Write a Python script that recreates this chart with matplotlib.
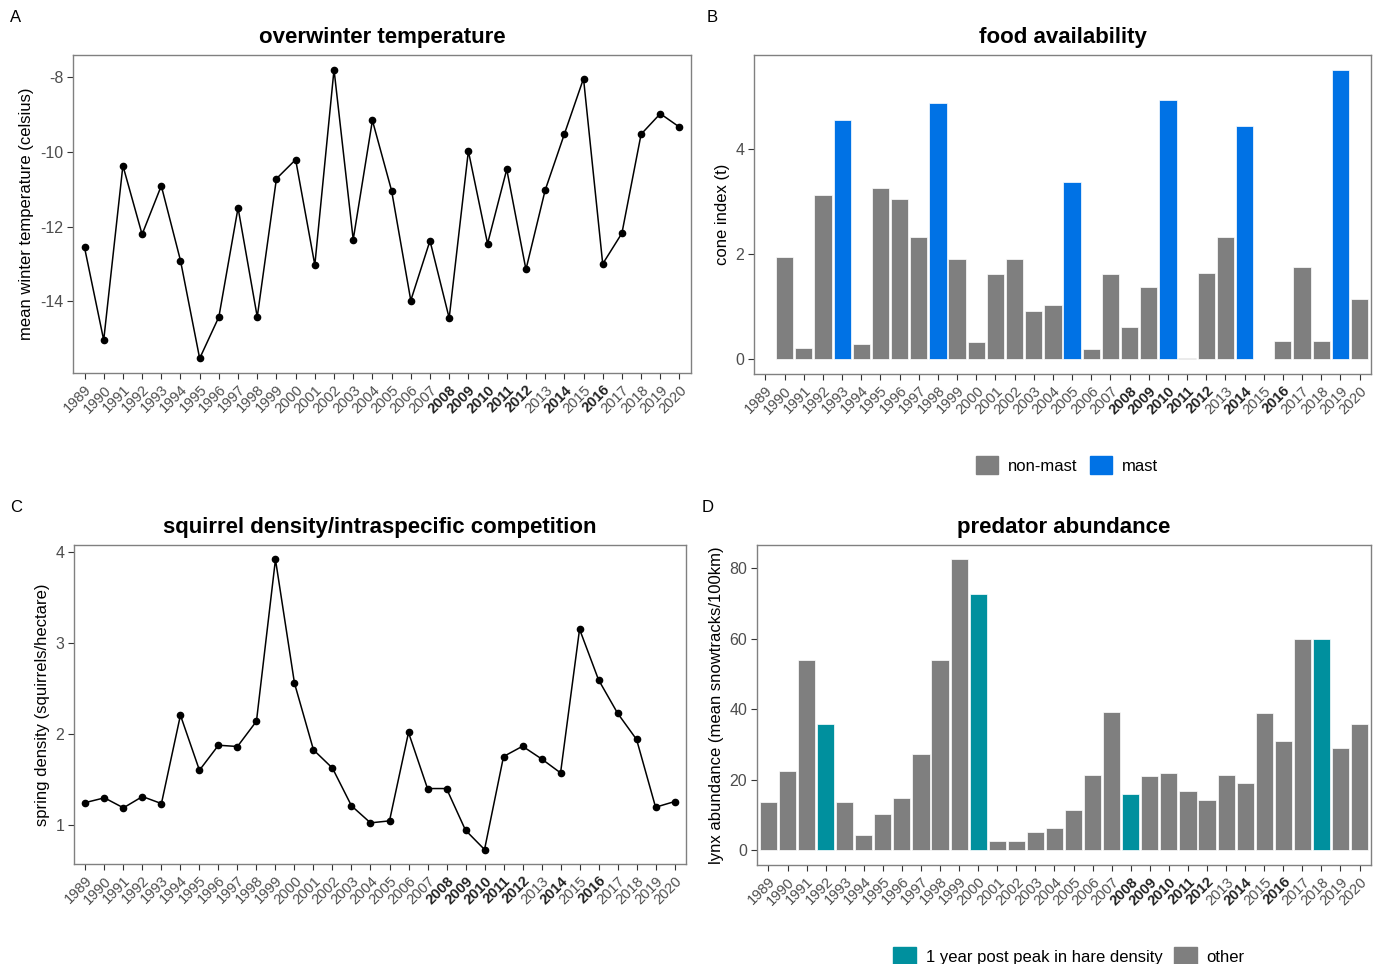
import numpy as np
import matplotlib
matplotlib.use("Agg")
import matplotlib.pyplot as plt
from matplotlib.patches import Patch

plt.rcParams['font.family'] = ['Liberation Sans', 'DejaVu Sans']
plt.rcParams['axes.unicode_minus'] = False

years = list(range(1989, 2021))
bold_years = [2008, 2009, 2010, 2011, 2012, 2014, 2016]

# A: overwinter temperature
temp = [-12.56, -15.04, -10.37, -12.21, -10.91, -12.91, -15.53, -14.42, -11.50, -14.42,
        -10.72, -10.21, -13.03, -7.80, -12.35, -9.16, -11.04, -13.98, -12.38, -14.45,
        -9.98, -12.46, -10.47, -13.15, -11.03, -9.53, -8.04, -13.00, -12.18, -9.53,
        -8.98, -9.34]

# B: cone index (None = no data)
cone = [None, 1.95, 0.22, 3.12, 4.55, 0.30, 3.26, 3.05, 2.32, 4.87,
        1.91, 0.34, 1.63, 1.92, 0.93, 1.04, 3.37, 0.20, 1.63, 0.62,
        1.38, 4.93, 0.02, 1.65, 2.32, 4.44, None, 0.36, 1.76, 0.36,
        5.51, 1.15]
mast_years = [1993, 1998, 2005, 2010, 2014, 2019]

# C: spring squirrel density
density = [1.245, 1.297, 1.187, 1.311, 1.234, 2.205, 1.600, 1.875, 1.861, 2.139,
           3.916, 2.557, 1.824, 1.623, 1.209, 1.022, 1.044, 2.015, 1.399, 1.399,
           0.941, 0.729, 1.751, 1.864, 1.725, 1.571, 3.150, 2.593, 2.227, 1.938,
           1.194, 1.256]

# D: lynx abundance
lynx = [13.8, 22.5, 53.9, 35.8, 13.7, 4.5, 10.4, 14.8, 27.2, 53.9,
        82.4, 72.7, 2.6, 2.8, 5.3, 6.4, 11.4, 21.5, 39.1, 16.1,
        21.2, 22.0, 16.8, 14.3, 21.3, 19.0, 38.8, 30.9, 59.9, 59.8,
        28.9, 35.7]
post_peak = [1992, 2000, 2008, 2018]

grey = '#7F7F7F'
blue = '#0072E5'
teal = '#00909E'
txtgrey = '#4D4D4D'

W, H = 1384, 964
fig = plt.figure(figsize=(W / 100, H / 100), dpi=100)


def box(l, t, r, b):
    return [l / W, 1 - b / H, (r - l) / W, (b - t) / H]


def style(ax, title, ylabel, yticks):
    x = np.arange(len(years))
    ax.set_xlim(-0.6, len(years) - 0.4)
    ax.set_xticks(x)
    ax.set_xticklabels([str(y) for y in years], rotation=45, ha='right',
                       va='top', rotation_mode='anchor', fontsize=10.5, color=txtgrey)
    for lab, y in zip(ax.get_xticklabels(), years):
        if y in bold_years:
            lab.set_fontweight('bold')
            lab.set_color('#222222')
    ax.set_yticks(yticks)
    ax.tick_params(axis='y', labelsize=11.5, labelcolor=txtgrey)
    ax.tick_params(length=4, width=0.8, color='#333333', pad=3)
    for s in ax.spines.values():
        s.set_color('#808080')
        s.set_linewidth(1.0)
    ax.set_title(title, fontsize=16, fontweight='bold', pad=9)
    ax.set_ylabel(ylabel, fontsize=12, labelpad=4)


# A
axA = fig.add_axes(box(73, 55, 691, 373))
xA = np.arange(len(years))
axA.plot(xA, temp, color='black', lw=1.1, marker='o', ms=4.5)
axA.set_ylim(-15.92, -7.41)
style(axA, 'overwinter temperature', 'mean winter temperature (celsius)', [-14, -12, -10, -8])

# B
axB = fig.add_axes(box(754, 55, 1371, 374))
for i, (y, v) in enumerate(zip(years, cone)):
    if v is None:
        continue
    axB.bar(i, v, width=0.9, color=blue if y in mast_years else grey,
            edgecolor='white', linewidth=0.5)
axB.set_ylim(-0.276, 5.79)
style(axB, 'food availability', 'cone index (t)', [0, 2, 4])

# C
axC = fig.add_axes(box(74, 545, 686, 864))
axC.plot(xA, density, color='black', lw=1.1, marker='o', ms=4.5)
axC.set_ylim(0.57, 4.075)
style(axC, 'squirrel density/intraspecific competition',
      'spring density (squirrels/hectare)', [1, 2, 3, 4])

# D
axD = fig.add_axes(box(757, 545, 1371, 865))
axD.bar(xA, lynx, width=0.9, color=[teal if y in post_peak else grey for y in years],
        edgecolor='white', linewidth=0.5)
axD.set_ylim(-4.12, 86.5)
style(axD, 'predator abundance', 'lynx abundance (mean snowtracks/100km)',
      [0, 20, 40, 60, 80])

# panel letters
for lab, (px, py) in zip('ABCD', [(16, 18), (712, 18), (16, 508), (708, 508)]):
    fig.text(px / W, 1 - py / H, lab, fontsize=12, ha='center', va='center')

# legends
fig.legend(handles=[Patch(color=grey, label='non-mast'), Patch(color=blue, label='mast')],
           loc='center', bbox_to_anchor=(1067 / W, 1 - 465 / H), ncol=2, frameon=False,
           fontsize=12, handlelength=1.35, handleheight=1.35, handletextpad=0.6,
           columnspacing=0.7)
fig.legend(handles=[Patch(color=teal, label='1 year post peak in hare density'),
                    Patch(color=grey, label='other')],
           loc='center', bbox_to_anchor=(1069 / W, 1 - 956 / H), ncol=2, frameon=False,
           fontsize=12, handlelength=1.35, handleheight=1.35, handletextpad=0.6,
           columnspacing=0.7)

fig.savefig('out.png', dpi=100)
